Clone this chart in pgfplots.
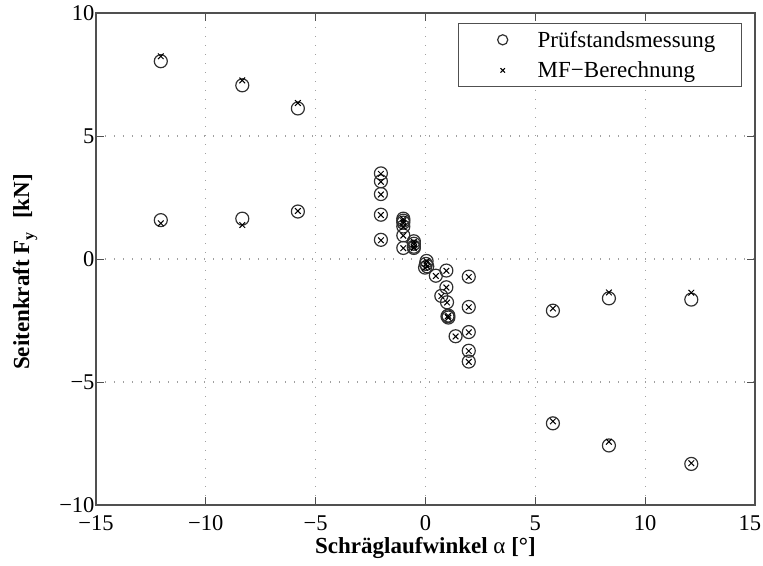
\documentclass[border=0pt]{standalone}
\usepackage{fontspec}
\setmainfont{Liberation Serif}
\usepackage{pgfplots}
\pgfplotsset{compat=1.18}

\definecolor{axgray}{HTML}{505050}
\definecolor{gridgray}{HTML}{A0A0A0}
\definecolor{markgray}{HTML}{303030}

\newcommand{\chartfont}{\fontsize{23bp}{28bp}\selectfont}
\newcommand{\tickfont}{\fontsize{22.5bp}{27bp}\selectfont}

\begin{document}
\begin{tikzpicture}
\begin{axis}[
  scale only axis, width=659bp, height=492bp,
  xmin=-15, xmax=15, ymin=-10, ymax=10,
  xtick={-15,-10,...,15}, ytick={-10,-5,...,10},
  xticklabels={−15,−10,−5,0,5,10,\makebox[12bp][r]{15}},
  yticklabels={−10,−5,0,5,10},
  tick align=inside, tick pos=both,
  major tick length=8bp,
  every tick/.style={axgray, line width=0.8bp},
  axis line style={axgray, line width=1.2bp},
  grid=major,
  major grid style={gridgray, line width=1.1bp, dash pattern=on 1.1bp off 7.9bp},
  tick label style={font=\tickfont, black},
  x tick label style={yshift=-7bp},
  y tick label style={xshift=2bp},
  label style={font=\chartfont\bfseries},
  xlabel={Schräglaufwinkel {\mdseries α} [°]},
  ylabel={Seitenkraft F\raisebox{-0.45ex}{\fontsize{16bp}{16bp}\selectfont y}\,\, [kN]},
  xlabel style={at={(axis description cs:0.5,-0.0874)}, anchor=center},
  ylabel style={at={(axis description cs:-0.1077,0.4736)}, anchor=center},
  legend style={
    at={(axis description cs:0.980,0.9797)}, anchor=north east,
    draw=axgray, line width=1bp, fill=white,
    font=\chartfont, inner xsep=12bp, inner ysep=7.5bp,
    nodes={inner sep=0bp}, row sep=13bp,
  },
  legend cell align=left,
  legend image code/.code={%
    \path[draw=none, fill=none] (0bp,-6bp) rectangle (67bp,6bp);
    \draw[#1, every mark/.append style={scale=0.78}]
      plot coordinates {(32bp,0bp)};},
]

% measured side force (test rig)
\addplot[only marks, mark=o, mark size=6.5bp, color=markgray,
  mark options={line width=1.2bp}] coordinates {
  (-12.05,8.04) (-8.34,7.06) (-5.81,6.12)
  (-12.05,1.58) (-8.34,1.64) (-5.81,1.93)
  (-2.03,3.48) (-2.03,3.16) (-2.03,2.64) (-2.03,1.80) (-2.03,0.78)
  (-1.01,1.64) (-1.01,1.56) (-1.01,1.48) (-1.01,1.32) (-1.01,0.96) (-1.01,0.45)
  (-0.53,0.72) (-0.53,0.62) (-0.53,0.50) (-0.53,0.45)
  (0.05,-0.08) (0.02,-0.20) (-0.02,-0.35) (0.08,-0.30)
  (0.47,-0.68)
  (0.95,-0.47) (0.95,-1.15) (0.72,-1.50) (0.98,-1.76)
  (1.04,-2.30) (1.04,-2.38) (1.00,-2.33)
  (1.37,-3.14)
  (1.97,-0.72) (1.97,-1.95) (1.97,-2.97) (1.97,-3.73) (1.97,-4.17)
  (5.80,-2.10) (8.35,-1.60) (12.10,-1.65)
  (5.80,-6.68) (8.35,-7.58) (12.10,-8.33)
};
\addlegendentry{Prüfstandsmessung\rule{14bp}{0bp}}

% Magic Formula result
\addplot[only marks, mark=x, mark size=4bp, color=black,
  mark options={line width=1bp}] coordinates {
  (-12.05,8.24) (-8.34,7.26) (-5.81,6.34)
  (-12.05,1.45) (-8.34,1.38) (-5.81,1.95)
  (-2.03,3.46) (-2.03,3.14) (-2.03,2.62) (-2.03,1.79) (-2.03,0.76)
  (-1.01,1.62) (-1.01,1.54) (-1.01,1.46) (-1.01,1.30) (-1.01,0.95) (-1.01,0.44)
  (-0.53,0.70) (-0.53,0.60) (-0.53,0.49) (-0.53,0.44)
  (0.05,-0.09) (0.02,-0.21) (-0.02,-0.36) (0.08,-0.31)
  (0.47,-0.69)
  (0.95,-0.48) (0.95,-1.16) (0.72,-1.51) (0.98,-1.77)
  (1.04,-2.31) (1.04,-2.39) (1.00,-2.34)
  (1.37,-3.15)
  (1.97,-0.73) (1.97,-1.96) (1.97,-2.98) (1.97,-3.74) (1.97,-4.18)
  (5.80,-2.01) (8.35,-1.36) (12.10,-1.37)
  (5.80,-6.60) (8.35,-7.43) (12.10,-8.30)
};
\addlegendentry{MF−Berechnung}
\end{axis}
\pgfresetboundingbox
\path[use as bounding box] (-96bp,-61bp) rectangle (667bp,505bp);
\end{tikzpicture}
\end{document}
